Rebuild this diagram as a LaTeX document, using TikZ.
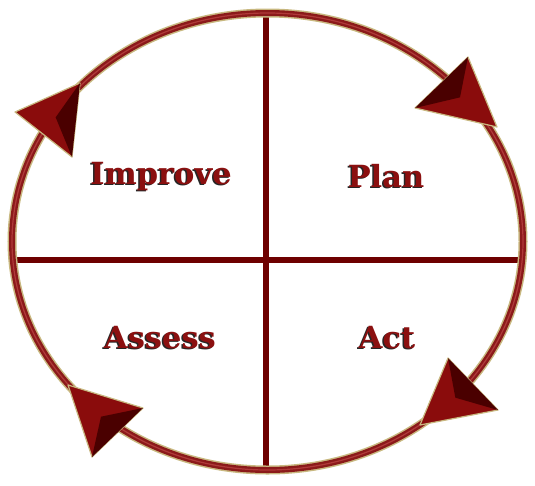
\documentclass[tikz,border=0pt]{standalone}
\usepackage{fontspec}
\newfontfamily\feldfont{DejaVu Serif}
\definecolor{ringrot}{HTML}{8B1A1A}
\definecolor{ringhell}{HTML}{B03A3A}
\definecolor{kreuzrot}{HTML}{6E0000}
\definecolor{saum}{HTML}{C8B880}
\definecolor{pfeilrot}{HTML}{8A0C0C}
\definecolor{pfeildunkel}{HTML}{4A0000}
\definecolor{schriftrot}{HTML}{8B1010}

\begin{document}
\begin{tikzpicture}[x=1pt, y=-1pt,
    feld/.style={font=\feldfont\bfseries\fontsize{30.5}{30.5}\selectfont, text=schriftrot, anchor=base, inner sep=0pt},
    schatten/.style={feld, text=black!85},
    kreuz/.style={draw=kreuzrot, line width=6pt}]
    \useasboundingbox (0,0) rectangle (535,485);
    %Endpunkte des Kreuzes
    \coordinate (oben) at (266,15);
    \coordinate (unten) at (266,470);
    \coordinate (links) at (15,260);
    \coordinate (rechts) at (520,260);
    % Kreuz zeichnen
    \draw[kreuz] (oben) -- (unten);
    \draw[kreuz] (links) -- (rechts);
    % Ring zeichnen
    \draw[saum, line width=9pt] (267.5,241.5) ellipse [x radius=255.5, y radius=228.5];
    \draw[ringrot, line width=6pt] (267.5,241.5) ellipse [x radius=255.5, y radius=228.5];
    \draw[ringhell, line width=1.2pt] (267.5,241.5) ellipse [x radius=255.5, y radius=228.5];
    % Pfeilspitzen (dunkle Seite zuerst)
    \foreach \ax/\ay/\bx/\by/\cx/\cy in {468/57/415/108/497/127, 448/358/498/410/420/425,
        80/83/72/157/15/112, 143/408/92/457/68/385}
    {
      \filldraw[fill=pfeilrot, draw=saum, line width=1.2pt, line join=round]
        (\ax,\ay) -- (\bx,\by) -- (\cx,\cy) -- cycle;
      \fill[pfeildunkel] (\ax,\ay) -- (\bx,\by) -- ({(\ax+\bx+\cx)/3},{(\ay+\by+\cy)/3}) -- cycle;
    }
    %Beschriftung
    \node[schatten] (improveS) at (159.5,185.5) {Improve};
    \node[feld] (improve) at (161,184) {Improve};
    \node[schatten] (planS) at (384.5,188.5) {Plan};
    \node[feld] (plan) at (386,187) {Plan};
    \node[schatten] (assessS) at (158.5,349.5) {Assess};
    \node[feld] (assess) at (160,348) {Assess};
    \node[schatten] (actS) at (385.5,349.5) {Act};
    \node[feld] (act) at (387,348) {Act};
\end{tikzpicture}
\end{document}
